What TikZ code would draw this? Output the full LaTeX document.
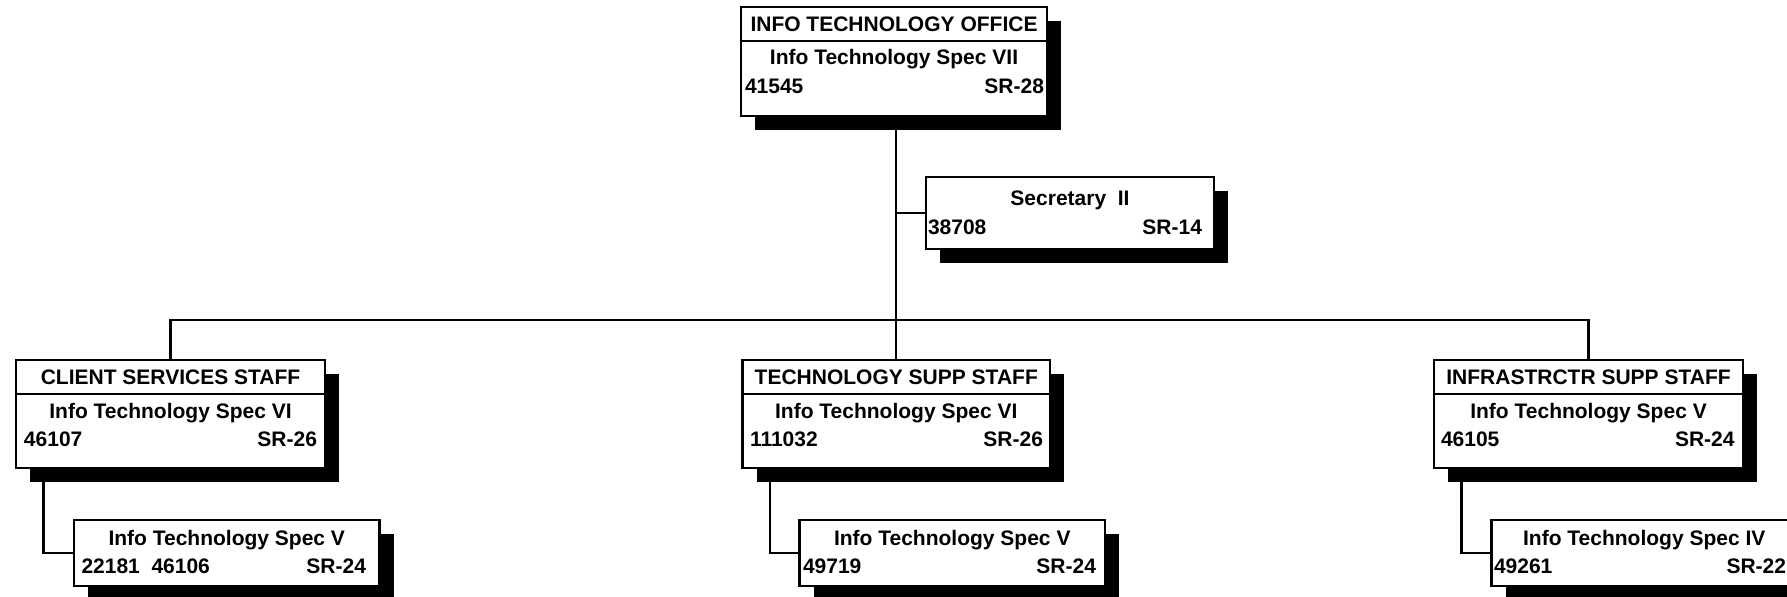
\documentclass[tikz,border=0pt]{standalone}
\usepackage{fontspec}
\setmainfont{Liberation Sans}
\usetikzlibrary{shadows}
\begin{document}
\begin{tikzpicture}[x=0.5pt,y=-0.5pt,
  every node/.style={font=\fontsize{10.5pt}{12pt}\selectfont\bfseries},
  box/.style={draw, line width=1.2pt, fill=white, rectangle, outer sep=0pt, inner sep=0pt,
    anchor=north west,
    drop shadow={shadow xshift=7pt,shadow yshift=-7pt,fill=black,opacity=1}},
  txt/.style={inner sep=0pt, outer sep=0pt},
  link/.style={line width=1.2pt}]

\useasboundingbox (0,0) rectangle (1787,597);

% boxes
\node[box, minimum width=153pt,   minimum height=54.5pt] (top)  at (741,7)     {};
\node[box, minimum width=144pt,   minimum height=36pt]   (sec)  at (926,177)   {};
\node[box, minimum width=154.5pt, minimum height=54pt]   (cs)   at (16,360)    {};
\node[box, minimum width=153.75pt,minimum height=54pt]   (ts)   at (742.5,360) {};
\node[box, minimum width=154.5pt, minimum height=54pt]   (is)   at (1434,360)  {};
\node[box, minimum width=152.75pt,minimum height=33pt]   (csub) at (74,520)    {};
\node[box, minimum width=152.75pt,minimum height=33pt]   (tsub) at (799.5,520) {};
\node[box, minimum width=152.75pt,minimum height=33pt]   (isub) at (1491.5,520){};

% header separators
\foreach \b in {top,cs,ts,is}
  \draw[link] ([yshift=-17pt]\b.north west) -- ([yshift=-17pt]\b.north east);

% texts: top
\node[txt, anchor=base] (topH) at ([yshift=-12.35pt]top.north) {INFO TECHNOLOGY OFFICE};
\node[txt, anchor=base] (topS) at ([yshift=-29pt]top.north) {Info Technology Spec VII};
\node[txt, anchor=base west] (topN) at ([xshift=2pt,yshift=-43.15pt]top.north west) {41545};
\node[txt, anchor=base east] (topG) at ([xshift=-1.5pt,yshift=-43.15pt]top.north east) {SR-28};

% secretary
\node[txt, anchor=base] (secS) at ([yshift=-14.5pt]sec.north) {Secretary~~II};
\node[txt, anchor=base west] (secN) at ([xshift=1pt,yshift=-29pt]sec.north west) {38708};
\node[txt, anchor=base east] (secG) at ([xshift=-6pt,yshift=-29pt]sec.north east) {SR-14};

% client services
\node[txt, anchor=base] (csH) at ([yshift=-12.25pt]cs.north) {CLIENT SERVICES STAFF};
\node[txt, anchor=base] (csS) at ([yshift=-29.15pt]cs.north) {Info Technology Spec VI};
\node[txt, anchor=base west] (csN) at ([xshift=4pt,yshift=-43.35pt]cs.north west) {46107};
\node[txt, anchor=base east] (csG) at ([xshift=-4pt,yshift=-43.35pt]cs.north east) {SR-26};

% technology supp
\node[txt, anchor=base] (tsH) at ([yshift=-12.25pt]ts.north) {TECHNOLOGY SUPP STAFF};
\node[txt, anchor=base] (tsS) at ([yshift=-29.15pt]ts.north) {Info Technology Spec VI};
\node[txt, anchor=base west] (tsN) at ([xshift=3.75pt,yshift=-43.35pt]ts.north west) {111032};
\node[txt, anchor=base east] (tsG) at ([xshift=-3.5pt,yshift=-43.35pt]ts.north east) {SR-26};

% infrastructure supp
\node[txt, anchor=base] (isH) at ([yshift=-12.25pt]is.north) {INFRASTRCTR SUPP STAFF};
\node[txt, anchor=base] (isS) at ([yshift=-29.15pt]is.north) {Info Technology Spec V};
\node[txt, anchor=base west] (isN) at ([xshift=3.5pt,yshift=-43.35pt]is.north west) {46105};
\node[txt, anchor=base east] (isG) at ([xshift=-4.25pt,yshift=-43.35pt]is.north east) {SR-24};

% sub boxes
\node[txt, anchor=base] (csubS) at ([yshift=-12.75pt]csub.north) {Info Technology Spec V};
\node[txt, anchor=base west] (csubN) at ([xshift=3.75pt,yshift=-27pt]csub.north west) {22181~~46106};
\node[txt, anchor=base east] (csubG) at ([xshift=-6.75pt,yshift=-27pt]csub.north east) {SR-24};

\node[txt, anchor=base] (tsubS) at ([yshift=-12.75pt]tsub.north) {Info Technology Spec V};
\node[txt, anchor=base west] (tsubN) at ([xshift=1.75pt,yshift=-27pt]tsub.north west) {49719};
\node[txt, anchor=base east] (tsubG) at ([xshift=-4.5pt,yshift=-27pt]tsub.north east) {SR-24};

\node[txt, anchor=base] (isubS) at ([yshift=-12.75pt]isub.north) {Info Technology Spec IV};
\node[txt, anchor=base west] (isubN) at ([xshift=1.25pt,yshift=-27pt]isub.north west) {49261};
\node[txt, anchor=base east] (isubG) at ([xshift=-5.5pt,yshift=-27pt]isub.north east) {SR-22};

% connectors
\coordinate (bus) at (896,320);
\draw[link] (top.south -| ts.north) -- (ts.north);
\draw[link] (sec.west) -- (sec.west -| ts.north);
\draw[link] (cs.north) |- (bus) -| (is.north);
\draw[link] ([xshift=13.75pt]cs.south west) |- (csub.west);
\draw[link] ([xshift=13.75pt]ts.south west) |- (tsub.west);
\draw[link] ([xshift=13.75pt]is.south west) |- (isub.west);
\end{tikzpicture}
\end{document}
